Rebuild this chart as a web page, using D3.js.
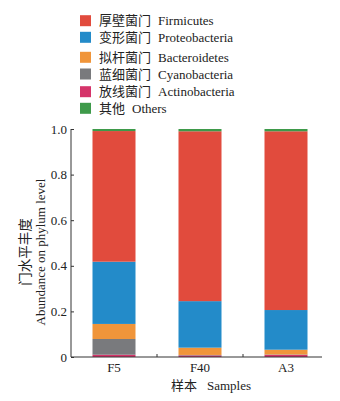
<!DOCTYPE html>
<html><head><meta charset="utf-8">
<script src="https://cdn.jsdelivr.net/npm/d3@7"></script>
<style>body{margin:0;background:#fff}svg{display:block}</style>
</head><body>
<svg id="c" width="340" height="401"></svg>
<script>
const samples = ["F5", "F40", "A3"];
const phylaZh = ["厚壁菌门", "变形菌门", "拟杆菌门", "蓝细菌门", "放线菌门", "其他"];
const phylaEn = ["Firmicutes", "Proteobacteria", "Bacteroidetes", "Cyanobacteria", "Actinobacteria", "Others"];
const colors = ["#e14b3d", "#238bc9", "#f0953a", "#797a7d", "#d5346a", "#3e9a4a"];
// stacking order from bottom: Actinobacteria, Cyanobacteria, Bacteroidetes, Proteobacteria, Firmicutes, Others
const actinobacteria = [0.010, 0.007, 0.009];
const cyanobacteria  = [0.069, 0.002, 0.002];
const bacteroidetes  = [0.066, 0.032, 0.021];
const proteobacteria = [0.273, 0.204, 0.174];
const firmicutes     = [0.573, 0.745, 0.784];
const others         = [0.009, 0.010, 0.010];
const yTicks = [0, 0.2, 0.4, 0.6, 0.8, 1.0];

const stackKeys = ["Actinobacteria", "Cyanobacteria", "Bacteroidetes", "Proteobacteria", "Firmicutes", "Others"];
const seriesVals = {Actinobacteria: actinobacteria, Cyanobacteria: cyanobacteria, Bacteroidetes: bacteroidetes,
  Proteobacteria: proteobacteria, Firmicutes: firmicutes, Others: others};
const table = samples.map((s, i) => { const o = {sample: s}; stackKeys.forEach(k => o[k] = seriesVals[k][i]); return o; });
const colorOf = k => colors[phylaEn.indexOf(k)];

const svg = d3.select("#c");
const serif = "'Liberation Serif','Times New Roman',serif";
const cjk = "'Noto Sans CJK SC',sans-serif";

const x = d3.scaleBand().domain(samples).range([71, 329]).paddingInner(0).paddingOuter(0);
const y = d3.scaleLinear().domain([0, 1]).range([357, 129]);
const barW = 43;

const stacked = d3.stack().keys(stackKeys)(table);
svg.append("g").selectAll("g").data(stacked).join("g")
  .attr("fill", d => colorOf(d.key))
  .selectAll("rect").data(d => d).join("rect")
  .attr("x", d => x(d.data.sample) + x.bandwidth() / 2 - barW / 2)
  .attr("width", barW)
  .attr("y", d => y(d[1]))
  .attr("height", d => y(d[0]) - y(d[1]));

// Y axis
const yAxis = svg.append("g").attr("transform", "translate(71,0)")
  .call(d3.axisLeft(y).tickValues(yTicks).tickSize(-3).tickPadding(4).tickFormat(d => d === 0 ? "0" : d3.format(".1f")(d)));
yAxis.select(".domain").attr("stroke", "#333").attr("d", "M0,129V357");
yAxis.selectAll(".tick line").attr("stroke", "#333");
yAxis.selectAll("text").attr("font-family", serif).attr("font-size", 13).attr("fill", "#222");

// X axis
const xAxis = svg.append("g").attr("transform", "translate(0,357)")
  .call(d3.axisBottom(x).tickSize(0).tickPadding(6));
xAxis.select(".domain").attr("stroke", "#333").attr("d", "M71,0H322");
xAxis.selectAll("text").attr("font-family", serif).attr("font-size", 13).attr("fill", "#222");
// boundary ticks
xAxis.selectAll(".btick").data(samples.slice(1)).join("line")
  .attr("x1", d => x(d)).attr("x2", d => x(d)).attr("y1", 0).attr("y2", -3).attr("stroke", "#333");

// axis titles
const xt = svg.append("text").attr("x", 211).attr("y", 390).attr("text-anchor", "middle").attr("fill", "#222").attr("font-size", 13);
xt.append("tspan").attr("font-family", cjk).text("样本");
xt.append("tspan").attr("font-family", serif).attr("dx", 10).text("Samples");

const yt = svg.append("g").attr("transform", "translate(0,252) rotate(-90)");
yt.append("text").attr("x", 0).attr("y", 30).attr("text-anchor", "middle").attr("font-family", cjk).attr("font-size", 13.5).attr("fill", "#222").text("门水平丰度");
yt.append("text").attr("x", 0).attr("y", 45).attr("text-anchor", "middle").attr("font-family", serif).attr("font-size", 13).attr("fill", "#222").text("Abundance on phylum level");

// legend
const legY = [20.7, 37.3, 57.3, 74, 91.7, 108.3];
const leg = svg.append("g").selectAll("g").data(phylaEn).join("g")
  .attr("transform", (d, i) => `translate(80,${legY[i]})`);
leg.append("rect").attr("x", 0).attr("y", -5.5).attr("width", 11).attr("height", 11).attr("fill", (d, i) => colors[i]);
const lt = leg.append("text").attr("x", 19).attr("y", 4.5).attr("font-size", 13).attr("fill", "#222");
lt.append("tspan").attr("font-family", cjk).text((d, i) => phylaZh[i]);
lt.append("tspan").attr("font-family", serif).attr("dx", 7).text(d => d);
</script>
</body></html>
